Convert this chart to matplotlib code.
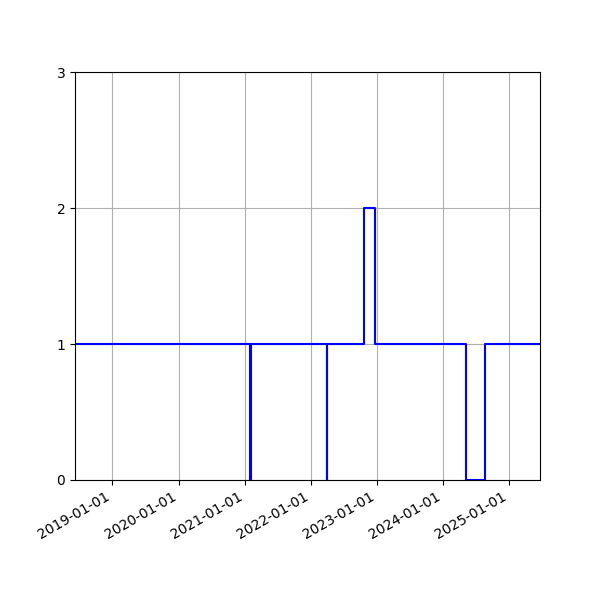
import numpy as np
import matplotlib
matplotlib.use('Agg')
import matplotlib.pyplot as plt
import matplotlib.dates as mdates
import pandas as pd

# change points of the count (step, held until next date)
dates = ['2018-06-08', '2021-02-01', '2021-02-03', '2022-03-30', '2022-04-01',
         '2022-10-20', '2022-12-21', '2024-05-08', '2024-08-21', '2025-06-20']
counts = [1, 0, 1, 0, 1, 2, 1, 0, 1, 1]

t = pd.to_datetime(dates)

fig, ax = plt.subplots(figsize=(6, 6), dpi=100)
ax.plot(t, counts, color='b', drawstyle='steps-post')

ax.set_xlim(t[0], t[-1])
ax.set_ylim(0, 3)
ax.set_yticks([0, 1, 2, 3])
ax.xaxis.set_major_locator(mdates.YearLocator())
ax.xaxis.set_major_formatter(mdates.DateFormatter('%Y-%m-%d'))
ax.grid(True)
fig.autofmt_xdate()

plt.savefig('out.png', dpi=100)
